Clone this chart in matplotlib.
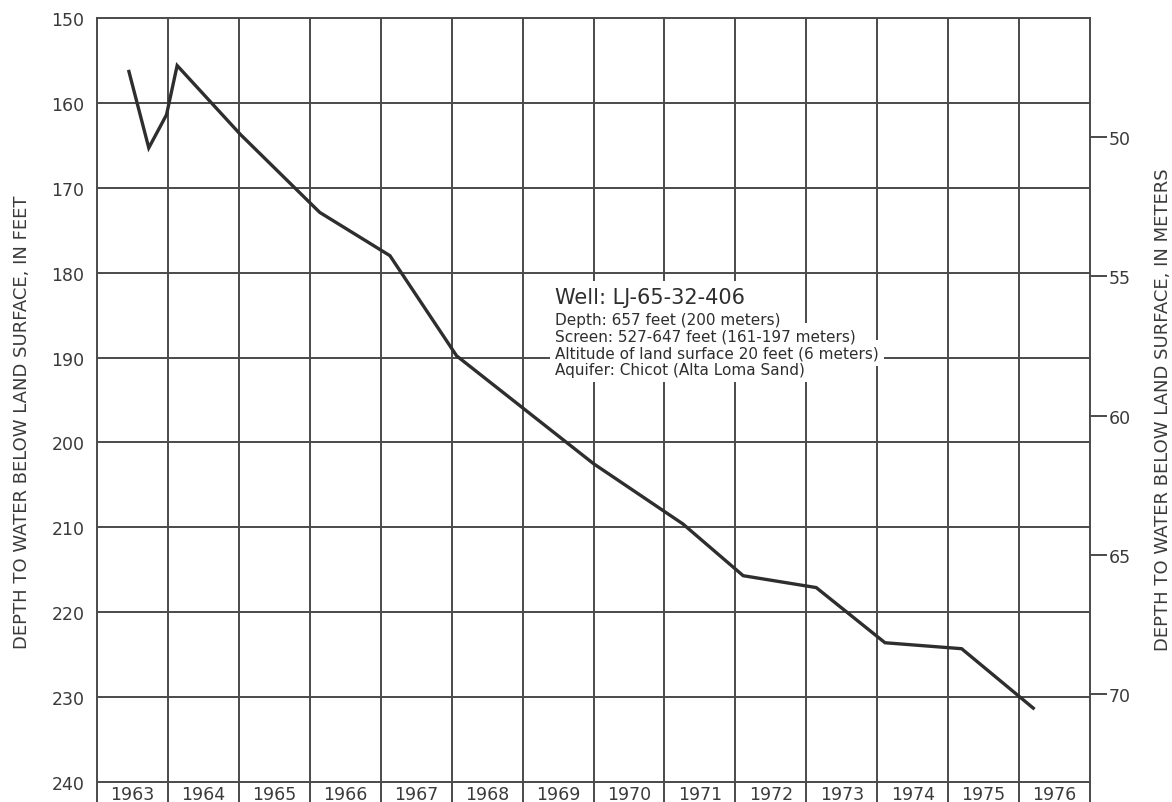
import matplotlib
matplotlib.use("Agg")
import matplotlib.pyplot as plt

# Water-level record, well LJ-65-32-406
years = [1963.45, 1963.73, 1963.98, 1964.13, 1965.02, 1966.14, 1967.13,
         1968.07, 1970.00, 1971.26, 1972.11, 1973.14, 1974.11, 1975.19, 1976.20]
depth_ft = [156.3, 165.3, 161.4, 155.6, 163.7, 172.9, 178.0,
            189.8, 202.5, 209.6, 215.7, 217.1, 223.6, 224.3, 231.3]

year_labels = [str(y) for y in range(1963, 1977)]
feet_ticks = [150, 160, 170, 180, 190, 200, 210, 220, 230, 240]
meter_ticks = [50, 55, 60, 65, 70]
FT_PER_M = 3.2808

info_title = "Well: LJ-65-32-406"
info_lines = [
    "Depth: 657 feet (200 meters)",
    "Screen: 527-647 feet (161-197 meters)",
    "Altitude of land surface 20 feet (6 meters)",
    "Aquifer: Chicot (Alta Loma Sand)",
]

ink = "#2e2e2e"
grid_c = "#4a4a4a"
text_c = "#3a3a3a"

fig = plt.figure(figsize=(11.72, 8.03), dpi=100)
ax = fig.add_axes([97 / 1172, 0.0, (1090 - 97) / 1172, 1 - 19 / 803])

y_top, y_bottom = 150.0, 242.36
ax.set_xlim(1963, 1977)
ax.set_ylim(y_bottom, y_top)

# grid: year boundaries and 10-foot lines
for yr in range(1964, 1977):
    ax.axvline(yr, color=grid_c, lw=1.4, zorder=1)
for ft in feet_ticks[1:]:
    ax.axhline(ft, color=grid_c, lw=1.4, zorder=1)

ax.plot(years, depth_ft, color=ink, lw=2.4, solid_joinstyle="miter", zorder=3)

for side in ("left", "right", "top"):
    ax.spines[side].set_color(grid_c)
    ax.spines[side].set_linewidth(1.4)
ax.spines["bottom"].set_visible(False)

ax.set_xticks([])
ax.set_yticks(feet_ticks)
ax.set_yticklabels([str(t) for t in feet_ticks])
ax.tick_params(axis="y", length=0, pad=9, labelsize=12.5, labelcolor=text_c)

# year labels in the strip below the 240-foot line
for i, lab in enumerate(year_labels):
    ax.text(1963 + i + 0.5, 241.45, lab, ha="center", va="center",
            fontsize=12.5, color=text_c, clip_on=False)

# metric axis
ax2 = ax.twinx()
ax2.set_ylim(y_bottom / FT_PER_M, y_top / FT_PER_M)
ax2.set_yticks(meter_ticks)
ax2.set_yticklabels([str(t) for t in meter_ticks])
ax2.tick_params(axis="y", direction="out", length=12, width=1.4, color=grid_c,
                pad=1.5, labelsize=12.5, labelcolor=text_c)
for side in ("left", "right", "top", "bottom"):
    ax2.spines[side].set_visible(False)

fig.text(22 / 1172, 1 - 422 / 803, "DEPTH TO WATER BELOW LAND SURFACE, IN FEET",
         rotation=90, ha="center", va="center", fontsize=13, color=text_c)
fig.text(1163 / 1172, 1 - 410 / 803, "DEPTH TO WATER BELOW LAND SURFACE, IN METERS",
         rotation=90, ha="center", va="center", fontsize=13, color=text_c)

# well description block: white knock-outs first, then the lettering on top
entries = [(info_title, 298, 15)] + [
    (line, 320 + 16.8 * k, 11) for k, line in enumerate(info_lines)
]
box = dict(facecolor="white", edgecolor="none", pad=4.0)
for txt, ypix, size in entries:
    fig.text(555 / 1172, 1 - ypix / 803, txt, ha="left", va="center",
             fontsize=size, color="none", bbox=box, zorder=5)
for txt, ypix, size in entries:
    fig.text(555 / 1172, 1 - ypix / 803, txt, ha="left", va="center",
             fontsize=size, color=ink, zorder=6)

fig.savefig("out.png", dpi=100, facecolor="white")
